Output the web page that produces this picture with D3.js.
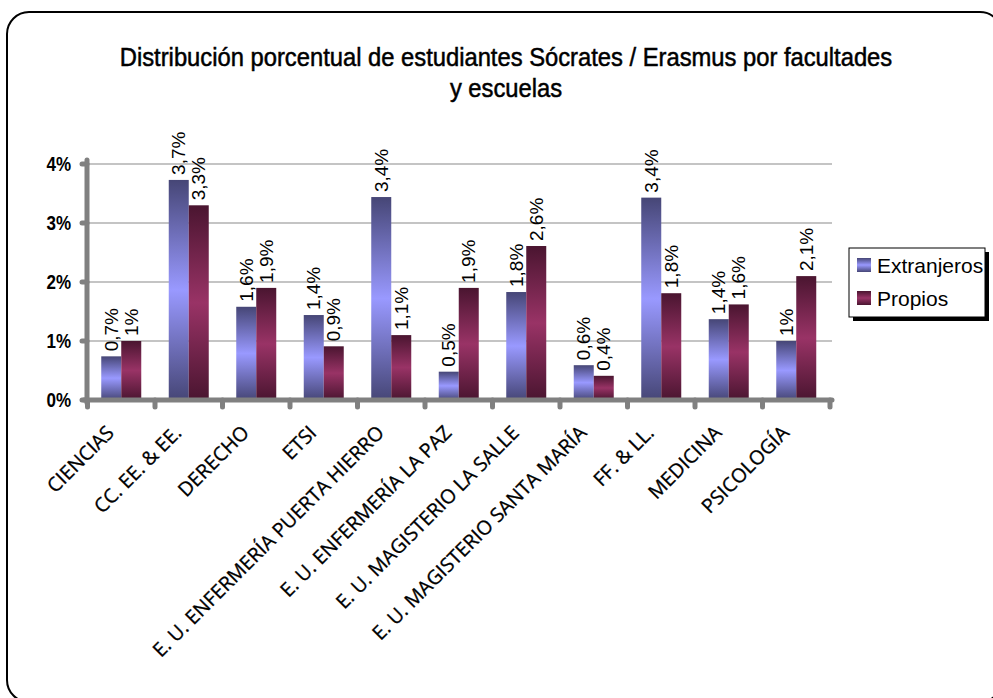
<!DOCTYPE html>
<html><head><meta charset="utf-8">
<script src="https://cdn.jsdelivr.net/npm/d3@7"></script>
<style>
html,body{margin:0;padding:0;background:#fff;}
svg{display:block;}
</style></head>
<body>
<svg id="c" width="993" height="698"></svg>
<script>
const categories = ["CIENCIAS","CC. EE. & EE.","DERECHO","ETSI","E. U. ENFERMERÍA PUERTA HIERRO","E. U. ENFERMERÍA LA PAZ","E. U. MAGISTERIO LA SALLE","E. U. MAGISTERIO SANTA MARÍA","FF. & LL.","MEDICINA","PSICOLOGÍA"];
const extranjeros = [0.74,3.73,1.58,1.44,3.44,0.48,1.83,0.59,3.43,1.37,1.0];
const propios = [1.0,3.3,1.9,0.91,1.1,1.9,2.61,0.41,1.81,1.62,2.1];
const seriesNames = ["Extranjeros","Propios"];
const yTicks = [0,1,2,3,4];
const titleLines = ["Distribución porcentual de estudiantes Sócrates / Erasmus por facultades","y escuelas"];

const svg = d3.select("#c");
const sans = "'Liberation Sans',Arial,sans-serif";

// frame
svg.append("rect").attr("x",10).attr("y",15).attr("width",995).attr("height",690).attr("rx",22)
  .attr("fill","#000");
svg.append("rect").attr("x",7).attr("y",12).attr("width",995).attr("height",690).attr("rx",22)
  .attr("fill","#fff").attr("stroke","#000").attr("stroke-width",2);

// gradients
const defs = svg.append("defs");
function grad(id, dark, light){
  const g = defs.append("linearGradient").attr("id",id).attr("x1",0).attr("y1",0).attr("x2",0).attr("y2",1);
  g.append("stop").attr("offset","0%").attr("stop-color",dark);
  g.append("stop").attr("offset","50%").attr("stop-color",light);
  g.append("stop").attr("offset","100%").attr("stop-color",dark);
}
grad("gE","#464676","#9999ff");
grad("gP","#4a1530","#993366");
const fills = ["url(#gE)","url(#gP)"];

// title (condensed look via horizontal scaling)
const tg = svg.append("g");
const tt = tg.append("text").attr("font-family",sans).attr("font-weight","normal")
  .attr("font-size",25).attr("text-anchor","middle").attr("fill","#000").attr("x",0)
  .attr("stroke","#000").attr("stroke-width",0.5);
tt.selectAll("tspan").data(titleLines).join("tspan")
  .attr("x",0).attr("y",(d,i)=>i*31).text(d=>d);
const w0 = tt.select("tspan").node().getComputedTextLength();
const sx = 773 / w0;
tg.attr("transform",`translate(506,66) scale(${sx},1)`);

const x0 = 87.5, x1 = 830, yBase = 400, yTop = 164;
const x = d3.scaleBand().domain(categories).range([x0,x1]).paddingInner(0).paddingOuter(0);
const y = d3.scaleLinear().domain([0,4]).range([yBase,yTop]);
const xs = d3.scaleBand().domain(seriesNames).range([0,40]);
const barOff = (x.bandwidth()-40)/2;

// gridlines
svg.append("g").selectAll("line").data(yTicks.slice(1)).join("line")
  .attr("x1",x0).attr("x2",x1+2).attr("y1",d=>y(d)).attr("y2",d=>y(d))
  .attr("stroke","#8a8a8a").attr("stroke-width",1.2);

// bars
const data = categories.map((c,i)=>({c, vals:[extranjeros[i],propios[i]]}));
const groups = svg.append("g").selectAll("g").data(data).join("g")
  .attr("transform",d=>`translate(${x(d.c)+barOff},0)`);
groups.selectAll("rect").data(d=>d.vals.map((v,j)=>({v,s:seriesNames[j],j}))).join("rect")
  .attr("x",d=>xs(d.s)).attr("width",xs.bandwidth())
  .attr("y",d=>y(d.v)).attr("height",d=>yBase-y(d.v))
  .attr("fill",d=>fills[d.j]);

// value labels
const fmt = v => { let s = (Math.round(v*10)/10).toFixed(1); if (s.endsWith(".0")) s = s.slice(0,-2); return s.replace(".",",")+"%"; };
groups.selectAll("text").data(d=>d.vals.map((v,j)=>({v,s:seriesNames[j],j}))).join("text")
  .attr("transform",d=>`translate(${xs(d.s)+xs.bandwidth()/2+6.5},${y(d.v)-5}) rotate(-90)`)
  .attr("font-family",sans).attr("font-size",19).attr("fill","#000")
  .text(d=>fmt(d.v));

// axes
const axisCol = "#808080";
svg.append("line").attr("x1",87).attr("x2",87).attr("y1",160).attr("y2",403)
  .attr("stroke",axisCol).attr("stroke-width",5).attr("stroke-linecap","round");
svg.append("line").attr("x1",84).attr("x2",x1+2).attr("y1",yBase).attr("y2",yBase)
  .attr("stroke",axisCol).attr("stroke-width",5).attr("stroke-linecap","round");
svg.append("g").selectAll("line").data(yTicks).join("line")
  .attr("x1",82).attr("x2",87).attr("y1",d=>y(d)).attr("y2",d=>y(d))
  .attr("stroke",axisCol).attr("stroke-width",5).attr("stroke-linecap","round");
svg.append("g").selectAll("text").data(yTicks).join("text")
  .attr("transform",d=>`translate(71,${y(d)+7}) scale(0.85,1)`).attr("text-anchor","end")
  .attr("font-family",sans).attr("font-weight","bold").attr("font-size",20).attr("fill","#000")
  .text(d=>d+"%");
const bounds = categories.map(c=>x(c)).concat([x1]);
svg.append("g").selectAll("line").data(bounds).join("line")
  .attr("x1",d=>d).attr("x2",d=>d).attr("y1",yBase).attr("y2",yBase+7)
  .attr("stroke",axisCol).attr("stroke-width",5).attr("stroke-linecap","round");
// x labels
svg.append("g").selectAll("text").data(categories).join("text")
  .attr("transform",c=>`translate(${x(c)+x.bandwidth()/2-6},${yBase+34}) rotate(-45)`)
  .attr("text-anchor","end").attr("font-family","'Open Sans',sans-serif").attr("font-size",19.7)
  .attr("stroke","#000").attr("stroke-width",0.3)
  .attr("fill","#000").text(c=>c);

// legend
const lg = svg.append("g").attr("transform","translate(849,248)");
lg.append("rect").attr("x",4).attr("y",4).attr("width",136).attr("height",69).attr("fill","#000");
lg.append("rect").attr("width",136).attr("height",69).attr("fill","#fff").attr("stroke","#000").attr("stroke-width",1);
const li = lg.selectAll("g").data(seriesNames).join("g").attr("transform",(d,i)=>`translate(8,${10+i*33})`);
li.append("rect").attr("width",14).attr("height",14).attr("fill",(d,i)=>fills[i]);
li.append("text").attr("x",20).attr("y",15).attr("font-family",sans).attr("font-size",21)
  .attr("fill","#000").text(d=>d);
</script>
</body></html>
